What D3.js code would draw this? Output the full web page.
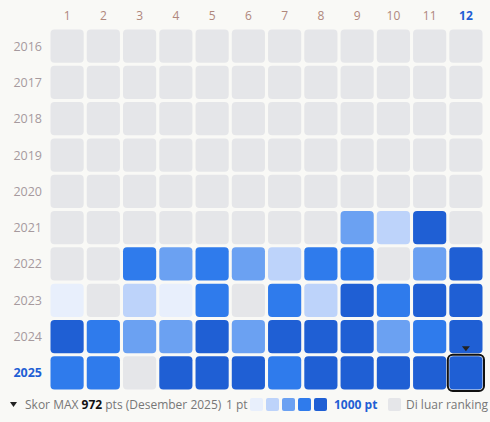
<!DOCTYPE html><html><head><meta charset="utf-8">
<script src="https://cdn.jsdelivr.net/npm/d3@7"></script>
<style>body{margin:0;background:#f9f9f6;font-family:"Open Sans","Noto Sans",sans-serif}</style></head><body>
<svg id="c" width="490" height="422"></svg>
<script>
const months=["1","2","3","4","5","6","7","8","9","10","11","12"];
const years=["2016","2017","2018","2019","2020","2021","2022","2023","2024","2025"];
const Z=[0,0,0,0,0,0,0,0,0,0,0,0];
const s2016=Z,s2017=Z,s2018=Z,s2019=Z,s2020=Z;
const s2021=[0,0,0,0,0,0,0,0,450,300,880,0];
const s2022=[0,0,0,650,450,650,450,300,650,650,0,450,900];
s2022.splice(0,1);
const s2023=[100,0,300,100,650,0,650,300,880,650,880,900];
const s2024=[900,650,450,450,900,450,900,900,900,450,650,900];
const s2025=[650,650,0,900,900,900,650,900,900,900,900,972];
const scores=[s2016,s2017,s2018,s2019,s2020,s2021,s2022,s2023,s2024,s2025];
const colors=["#e8effc","#bdd3fa","#6ba1f2","#2f7bec","#1f5fd4"];
const gray="#e5e6e9";
const svg=d3.select("#c");
const x=d3.scaleBand().domain(months).range([50,486]).paddingInner(36/36-3/36*1).padding(0);
const xb=d3.scaleBand().domain(months).range([50.5,482.5]).paddingInner(0.085);
const yb=d3.scaleBand().domain(years).range([29.5,389.5]).paddingInner(0.085);
const col=d3.scaleThreshold().domain([200,400,600,800]).range(colors);
const cells=[];
years.forEach((y,i)=>months.forEach((m,j)=>cells.push({y,m,v:scores[i][j]})));
svg.selectAll("rect.cell").data(cells).join("rect").attr("class","cell")
 .attr("x",d=>xb(d.m)).attr("y",d=>yb(d.y)).attr("width",xb.bandwidth()).attr("height",yb.bandwidth())
 .attr("rx",4).attr("fill",d=>d.v>0?col(d.v):gray);
// highlight
svg.append("rect").attr("x",xb("12")-1.5).attr("y",yb("2025")-1.5).attr("width",xb.bandwidth()+3).attr("height",yb.bandwidth()+3)
 .attr("rx",5).attr("fill","none").attr("stroke","#111").attr("stroke-width",2);
const tx=xb("12")+xb.bandwidth()/2, ty=yb("2025")-6;
svg.append("path").attr("d",`M${tx-4},${ty-4}L${tx+4},${ty-4}L${tx},${ty+1}Z`).attr("fill","#222");
svg.selectAll("text.m").data(months).join("text").attr("x",d=>xb(d)+xb.bandwidth()/2).attr("y",20)
 .attr("text-anchor","middle").attr("font-size",12).attr("font-weight",d=>d==="12"?700:400)
 .attr("fill",d=>d==="12"?"#1f5fd4":"#b0877c").text(d=>d);
svg.selectAll("text.y").data(years).join("text").attr("x",42).attr("y",d=>yb(d)+yb.bandwidth()/2+4.5)
 .attr("text-anchor","end").attr("font-size",12.5).attr("font-weight",d=>d==="2025"?700:400)
 .attr("fill",d=>d==="2025"?"#1f5fd4":"#a69a9e").text(d=>d);
// legend
const L=svg.append("g");
L.append("path").attr("d","M10,402L17,402L13.5,407Z").attr("fill","#222");
const t=L.append("text").attr("x",25).attr("y",409).attr("font-size",12).attr("fill","#777");
t.append("tspan").text("Skor MAX ");
t.append("tspan").attr("fill","#111").attr("font-weight",700).text("972");
t.append("tspan").text(" pts (Desember 2025)");
L.append("text").attr("x",226).attr("y",409).attr("font-size",12).attr("fill","#777").text("1 pt");
colors.forEach((c,i)=>L.append("rect").attr("x",250+i*16).attr("y",398).attr("width",13).attr("height",13).attr("rx",2).attr("fill",c));
L.append("text").attr("x",334).attr("y",409).attr("font-size",12).attr("font-weight",700).attr("fill","#1f5fd4").text("1000 pt");
L.append("rect").attr("x",388).attr("y",398).attr("width",13).attr("height",13).attr("rx",2).attr("fill",gray);
L.append("text").attr("x",406).attr("y",409).attr("font-size",12).attr("fill","#777").text("Di luar ranking");
</script></body></html>
